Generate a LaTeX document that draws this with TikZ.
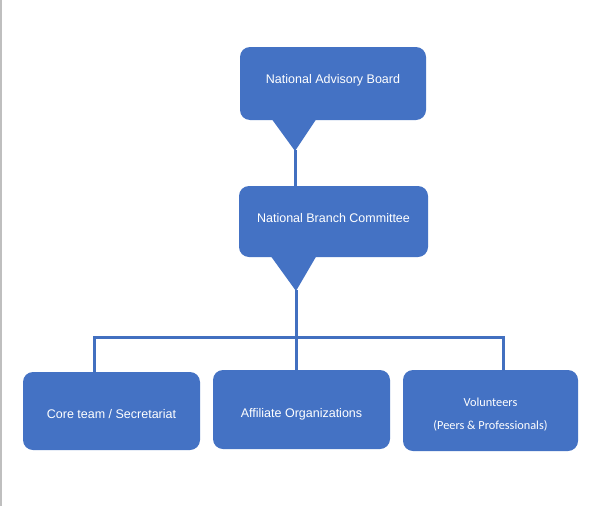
\documentclass[tikz,border=0pt]{standalone}
\usepackage{fontspec}
\setmainfont{Liberation Sans}
\newfontfamily\calfont{Carlito}
\definecolor{boxblue}{HTML}{4472C4}
\definecolor{lineblue}{HTML}{4270C0}
\begin{document}
\begin{tikzpicture}[x=1pt,y=-1pt,
  box/.style={fill=boxblue, rounded corners=10pt, inner sep=0pt, draw=none},
  lbl/.style={text=white, font=\fontsize{12.5}{15}\selectfont, inner sep=0pt},
  vlbl/.style={text=white, font=\calfont\fontsize{12.3}{15}\selectfont, inner sep=0pt},
  conn/.style={draw=lineblue, line width=3pt}]
\useasboundingbox (0,0) rectangle (602,506);
\fill[white] (0,0) rectangle (602,506);
\draw[gray!50, line width=1.5pt] (0.75,0) -- (0.75,506);

% top box
\node[box, minimum width=186pt, minimum height=73pt] (nab) at (333,83.5) {};
\node[lbl] (nabt) at (333,80.5) {National Advisory Board};
\fill[boxblue] (271,118) -- (317,118) -- (295,151) -- cycle;
\coordinate (nabtip) at (295,150);

% second box
\node[box, minimum width=189pt, minimum height=71pt] (nbc) at (333.5,221.5) {};
\node[lbl] (nbct) at (333.5,218.5) {National Branch Committee};
\fill[boxblue] (270,255) -- (317,255) -- (296,291) -- cycle;
\coordinate (nbctip) at (296,290);

% bottom boxes
\node[box, minimum width=177pt, minimum height=78pt] (core) at (111.5,411) {};
\node[lbl] (coret) at (111.5,414) {Core team / Secretariat};
\node[box, minimum width=177pt, minimum height=79pt] (aff) at (301.5,409.5) {};
\node[lbl] (afft) at (301.5,414) {Affiliate Organizations};
\node[box, minimum width=175pt, minimum height=81pt] (vol) at (490.5,410.5) {};
\node[vlbl] (volt1) at (490.5,402) {Volunteers};
\node[vlbl] (volt2) at (490.5,426) {(Peers \& Professionals)};

% connectors
\draw[conn] (nabtip) -- (nbc.north -| nabtip);
\coordinate (b1) at (94,337);
\coordinate (b2) at (296,337);
\coordinate (b3) at (503,337);
\draw[conn] (nbctip) -- (b2) -- (aff.north -| b2);
\draw[conn, line cap=rect] (core.north -| b1) -- (b1) -- (b3) -- (vol.north -| b3);
\end{tikzpicture}
\end{document}
